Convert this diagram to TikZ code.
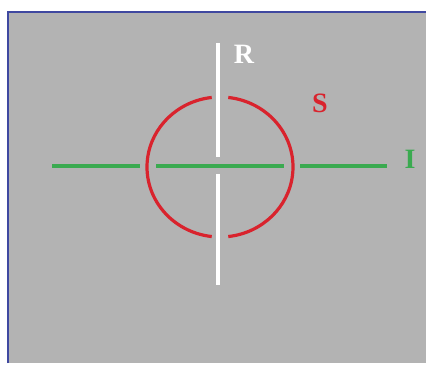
\documentclass[tikz,border=0pt]{standalone}
\usepackage{fontspec}
\setmainfont{Liberation Serif}
\definecolor{bg}{HTML}{B3B3B3}
\definecolor{frameblue}{HTML}{3F48A0}
\definecolor{cred}{HTML}{D9232D}
\definecolor{cgreen}{HTML}{3AAA50}
\tikzset{
  lbl/.style={font=\bfseries\fontsize{28}{28}\selectfont, inner sep=0pt},
  wline/.style={white, line width=3.2pt},
  gline/.style={cgreen, line width=3.4pt},
  rline/.style={cred, line width=3.2pt},
}
\begin{document}
\begin{tikzpicture}[x=1pt,y=-1pt]
\useasboundingbox (0,0) rectangle (426,365);
\fill[white] (0,0) rectangle (426,365);
\fill[bg] (8,12) rectangle (426,363);
\draw[frameblue, line width=2.5pt] (8,363) -- (8,12) -- (426,12);
% vertical white line R
\draw[wline] (218,43) -- (218,157);
\draw[wline] (218,174) -- (218,285);
% green line I
\draw[gline] (52,166) -- (140,166);
\draw[gline] (156,166) -- (284,166);
\draw[gline] (300,166) -- (387,166);
% red ellipse S with gaps
\draw[rline] (220,167) ++(96.5:73 and 70) arc[start angle=96.5, end angle=263.5, x radius=73, y radius=70];
\draw[rline] (220,167) ++(-83.5:73 and 70) arc[start angle=-83.5, end angle=83.5, x radius=73, y radius=70];
% labels
\node[lbl, text=white] (R) at (244,54) {R};
\node[lbl, text=cred] (S) at (320,103) {S};
\node[lbl, text=cgreen] (I) at (410,159) {I};
\end{tikzpicture}
\end{document}
